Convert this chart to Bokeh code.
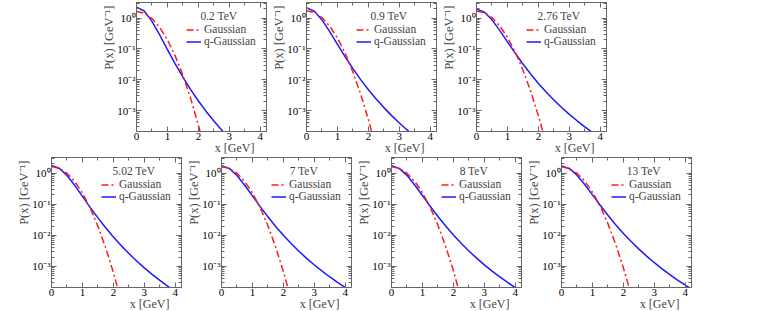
from bokeh.plotting import figure
from bokeh.models import (Range1d, LogAxis, LinearAxis, Label, Legend, LegendItem,
                          FixedTicker, CustomJSTickFormatter, Title)
from bokeh.layouts import column, row
from bokeh.embed import file_html
from bokeh.resources import INLINE

# ---------------- data ----------------
energies = ["0.2 TeV", "0.9 TeV", "2.76 TeV", "5.02 TeV", "7 TeV", "8 TeV", "13 TeV"]

x_gauss = [0.0, 0.25, 0.5, 0.75, 1.0, 1.25, 1.5, 1.75, 2.0, 2.25]
x_qgauss = [0.0, 0.25, 0.5, 0.75, 1.0, 1.25, 1.5, 1.75, 2.0, 2.25,
            2.5, 2.75, 3.0, 3.25, 3.5, 3.75, 4.0, 4.25]

gauss_02 = [1.64, 1.436, 0.965, 0.497, 0.1965, 0.0596, 0.01385, 0.00247, 3.38e-4, 3.5e-5]
gauss_09 = [1.72, 1.515, 1.035, 0.548, 0.2253, 0.0718, 0.01776, 0.003404, 5.07e-4, 5.85e-5]
gauss_276 = [1.68, 1.487, 1.031, 0.560, 0.2384, 0.0795, 0.02078, 0.004252, 6.82e-4, 8.6e-5]
gauss_502 = [1.64, 1.450, 1.003, 0.543, 0.2298, 0.0761, 0.0197, 0.00399, 6.32e-4, 7.8e-5]
gauss_7 = [1.62, 1.435, 0.996, 0.543, 0.2318, 0.0776, 0.0204, 0.0042, 6.79e-4, 8.6e-5]
gauss_8 = [1.62, 1.436, 1.001, 0.548, 0.236, 0.0799, 0.02124, 0.00444, 7.29e-4, 9.4e-5]
gauss_13 = [1.60, 1.424, 1.002, 0.559, 0.2464, 0.0860, 0.02376, 0.0052, 9.0e-4, 1.23e-4]

qgauss_02 = [2.27, 1.692, 0.7836, 0.2829, 0.0952, 0.03286, 0.0121, 0.004805, 0.002054,
             9.40e-4, 4.57e-4, 2.34e-4, 1.26e-4]
qgauss_09 = [2.158, 1.682, 0.8723, 0.3626, 0.1405, 0.05532, 0.02294, 0.01012, 0.004763,
             0.002375, 0.001249, 6.88e-4, 3.96e-4, 2.36e-4, 1.45e-4]
qgauss_276 = [1.950, 1.567, 0.8773, 0.4003, 0.1701, 0.07275, 0.03245, 0.01529, 0.007614,
              0.003996, 0.002202, 0.001265, 7.55e-4, 4.67e-4, 2.97e-4, 1.94e-4]
qgauss_502 = [1.770, 1.450, 0.8487, 0.4071, 0.1805, 0.07977, 0.03647, 0.01748, 0.008823,
              0.004675, 0.002594, 0.00150, 8.99e-4, 5.58e-4, 3.56e-4, 2.33e-4, 1.57e-4, 1.07e-4]
qgauss_7 = [1.738, 1.427, 0.8429, 0.4105, 0.1858, 0.08417, 0.03945, 0.01940, 0.01003,
            0.005441, 0.003088, 0.001823, 0.001115, 7.05e-4, 4.58e-4, 3.05e-4, 2.08e-4, 1.45e-4]
qgauss_8 = [1.738, 1.432, 0.8531, 0.4189, 0.1907, 0.08654, 0.04056, 0.01992, 0.01027,
            0.005557, 0.003143, 0.001849, 0.001127, 7.10e-4, 4.60e-4, 3.05e-4, 2.08e-4, 1.44e-4]
qgauss_13 = [1.718, 1.425, 0.8634, 0.4329, 0.2012, 0.09302, 0.04434, 0.02210, 0.01155,
             0.006322, 0.003611, 0.002145, 0.001319, 8.37e-4, 5.46e-4, 3.65e-4, 2.50e-4, 1.75e-4]

y_major = [1e-3, 1e-2, 1e-1, 1.0]
y_labels = ["10\u207b\u00b3", "10\u207b\u00b2", "10\u207b\u00b9", "10\u2070"]
x_major = [0, 1, 2, 3, 4]
x_minor = [0.5, 1.5, 2.5, 3.5]

gauss_all = [gauss_02, gauss_09, gauss_276, gauss_502, gauss_7, gauss_8, gauss_13]
qgauss_all = [qgauss_02, qgauss_09, qgauss_276, qgauss_502, qgauss_7, qgauss_8, qgauss_13]

# ---------------- style ----------------
FONT = "Liberation Serif"
AX = "#666666"
XMAX = 4.2
YMIN, YMAX = 2.1e-4, 3.2
y_minor = [k * 10.0 ** e for e in range(-4, 1) for k in range(2, 10)
           if YMIN <= k * 10.0 ** e <= YMAX]

FRAME_W = 130
BL = 37          # left border of a panel
BR = 3           # right border


def style_axis(ax, labels=True):
    ax.axis_line_color = AX
    ax.major_tick_line_color = AX
    ax.minor_tick_line_color = AX
    ax.major_tick_in = 5
    ax.major_tick_out = 0
    ax.minor_tick_in = 3
    ax.minor_tick_out = 0
    ax.major_label_text_font = FONT
    ax.major_label_text_font_size = "11px"
    ax.major_label_text_color = "black"
    if labels:
        ax.major_label_standoff = 1
    else:
        ax.major_label_standoff = 0
        ax.formatter = CustomJSTickFormatter(code="return ''")


def make_legend(renderer, label, y):
    return Legend(items=[LegendItem(label=label, renderers=[renderer])],
                  location=(50, y), padding=0, spacing=0, margin=0,
                  glyph_width=15, glyph_height=11, label_height=11,
                  label_standoff=3, label_text_font=FONT,
                  label_text_font_size="11.5px",
                  border_line_alpha=0, background_fill_alpha=0)


def panel(i, left_border, border_top, frame_h, border_bottom):
    p = figure(width=left_border + FRAME_W + BR,
               height=border_top + frame_h + border_bottom,
               x_range=Range1d(0, XMAX), y_range=Range1d(YMIN, YMAX),
               y_axis_type="log", output_backend="svg", toolbar_location=None,
               min_border_left=left_border, min_border_right=BR,
               min_border_top=border_top, min_border_bottom=border_bottom)
    p.grid.visible = False
    p.outline_line_color = AX
    p.outline_line_width = 1

    p.xaxis.ticker = FixedTicker(ticks=x_major, minor_ticks=x_minor)
    p.yaxis.ticker = FixedTicker(ticks=y_major, minor_ticks=y_minor)
    p.yaxis.major_label_overrides = {v: s for v, s in zip(y_major, y_labels)}
    style_axis(p.xaxis[0])
    style_axis(p.yaxis[0])

    top = LinearAxis(ticker=FixedTicker(ticks=x_major, minor_ticks=x_minor))
    style_axis(top, labels=False)
    p.add_layout(top, "above")
    right = LogAxis(ticker=FixedTicker(ticks=y_major, minor_ticks=y_minor))
    style_axis(right, labels=False)
    p.add_layout(right, "right")

    qx = x_qgauss[:len(qgauss_all[i])]
    gx = x_gauss[:len(gauss_all[i])]
    rq = p.line(qx, qgauss_all[i], line_color="#1a1aff", line_width=1.5)
    rg = p.line(gx, gauss_all[i], line_color="#ff1a1a", line_width=1.5,
                line_dash="7 3 2 3")

    p.add_layout(make_legend(rg, "Gaussian", frame_h - 33))
    p.add_layout(make_legend(rq, "q-Gaussian", frame_h - 45))

    p.add_layout(Label(x=2.66, y=YMAX, y_offset=-13, text=energies[i],
                       text_align="center", text_baseline="middle",
                       text_font=FONT, text_font_size="11.5px"))

    ylab = Title(text="P(x) [GeV\u207b\u00b9]", align="right", offset=3,
                 standoff=-2, text_font=FONT, text_font_size="12.5px",
                 text_font_style="normal")
    p.add_layout(ylab, "left")
    xlab = Title(text="x [GeV]", align="right", offset=12, standoff=-7,
                 text_font=FONT, text_font_size="12px", text_font_style="normal")
    p.add_layout(xlab, "below")
    return p


# top row: frames at page x 136, 306, 476 (y 2..131); bottom row: 51, 221, 391, 561 (y 157..287)
top_figs = [panel(0, 136, 2, 129, 26)] + [panel(i, BL, 2, 129, 26) for i in (1, 2)]
bot_figs = [panel(3, 51, 0, 130, 24)] + [panel(i, BL, 0, 130, 24) for i in (4, 5, 6)]

layout = column(row(*top_figs), row(*bot_figs))

open("out.html", "w").write(file_html(layout, INLINE))
